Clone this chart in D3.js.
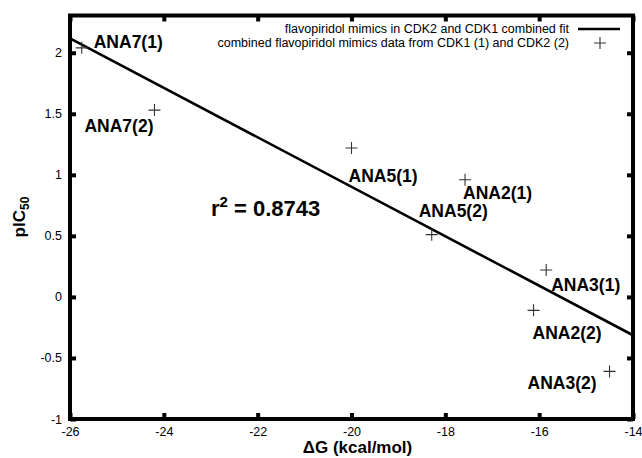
<!DOCTYPE html>
<html>
<head>
<meta charset="utf-8">
<script src="https://cdn.jsdelivr.net/npm/d3@7"></script>
<style>
  body { margin: 0; background: #fff; }
  svg { display: block; font-family: "Liberation Sans", Arial, Helvetica, sans-serif; }
</style>
</head>
<body>
<div id="chart"></div>
<script>
// Compounds and their values (deltaG in kcal/mol, pIC50)
const compounds = ["ANA7(1)", "ANA7(2)", "ANA5(1)", "ANA2(1)", "ANA5(2)", "ANA3(1)", "ANA2(2)", "ANA3(2)"];
const deltaG = [-25.75, -24.2, -20.0, -17.58, -18.29, -15.85, -16.12, -14.5];
const pIC50 = [2.04, 1.53, 1.22, 0.96, 0.51, 0.22, -0.11, -0.61];

// Combined fit line end points
const fitX = [-26, -14];
const fitY = [2.118, -0.314];

// Tick values
const xTicks = [-26, -24, -22, -20, -18, -16, -14];
const yTicks = [-1, -0.5, 0, 0.5, 1, 1.5, 2];

const legendLabels = [
    "flavopiridol mimics in CDK2 and CDK1 combined fit",
    "combined flavopiridol mimics data from CDK1 (1) and CDK2 (2)"
];
const r2Value = "0.8743";

// Label offsets from each point, in pixels (dx, dy of text start/baseline)
const labelOffsets = [[12, 0], [-70, 22], [-3, 34], [-2, 19], [-13, -18], [5, 21], [-1, 29], [-82, 18]];

const W = 642, H = 458;
const margin = { top: 15.5, right: 9, bottom: 39, left: 70 };
const width = W - margin.left - margin.right;
const height = H - margin.top - margin.bottom;

const svg = d3.select("#chart").append("svg")
    .attr("width", W)
    .attr("height", H);

const g = svg.append("g")
    .attr("transform", `translate(${margin.left},${margin.top})`);

const x = d3.scaleLinear().domain([-26, -14]).range([0, width]);
const y = d3.scaleLinear().domain([-1, 2.305]).range([height, 0]);

const fmt = d => String(d); // keep plain hyphen minus like the original

// Axes with inward ticks
function styleAxis(sel) {
    sel.select(".domain").remove();
    sel.selectAll(".tick line").attr("stroke", "#000").attr("stroke-width", 4);
    sel.selectAll(".tick text").attr("fill", "#000").style("font-size", "12.5px");
}

g.append("g")
    .attr("transform", `translate(0,${height})`)
    .call(d3.axisBottom(x).tickValues(xTicks).tickSize(-6).tickPadding(8).tickFormat(fmt))
    .call(styleAxis);

g.append("g")
    .call(d3.axisTop(x).tickValues(xTicks).tickSize(-6).tickFormat(""))
    .call(styleAxis);

g.append("g")
    .call(d3.axisLeft(y).tickValues(yTicks).tickSize(-6).tickPadding(8).tickFormat(fmt))
    .call(styleAxis);

g.append("g")
    .attr("transform", `translate(${width},0)`)
    .call(d3.axisRight(y).tickValues(yTicks).tickSize(-6).tickFormat(""))
    .call(styleAxis);

// Border frame
g.append("rect")
    .attr("x", 0).attr("y", 0)
    .attr("width", width).attr("height", height)
    .attr("fill", "none")
    .attr("stroke", "#000")
    .attr("stroke-width", 4);

// Fit line
g.append("line")
    .attr("x1", x(fitX[0])).attr("y1", y(fitY[0]))
    .attr("x2", x(fitX[1])).attr("y2", y(fitY[1]))
    .attr("stroke", "#000")
    .attr("stroke-width", 2.6);

// Plus marker
function plus(sel, cx, cy, r) {
    sel.append("path")
        .attr("d", `M${cx - r},${cy}H${cx + r}M${cx},${cy - r}V${cy + r}`)
        .attr("stroke", "#333")
        .attr("stroke-width", 1.1)
        .attr("fill", "none");
}

const points = compounds.map((c, i) => ({ name: c, dg: deltaG[i], p: pIC50[i], off: labelOffsets[i] }));

points.forEach(d => plus(g, x(d.dg), y(d.p), 6));

// Point labels
g.selectAll(".lbl")
    .data(points)
    .enter()
    .append("text")
    .attr("class", "lbl")
    .attr("x", d => x(d.dg) + d.off[0])
    .attr("y", d => y(d.p) + d.off[1])
    .style("font-size", "17.5px")
    .style("font-weight", "bold")
    .text(d => d.name);

// r^2 annotation
const r2 = svg.append("text")
    .attr("x", 211)
    .attr("y", 216)
    .style("font-size", "22px")
    .style("font-weight", "bold");
r2.append("tspan").text("r");
r2.append("tspan").attr("dy", -9).style("font-size", "15px").text("2");
r2.append("tspan").attr("dy", 9).text(" = " + r2Value);

// Legend
const legend = svg.append("g");
legend.selectAll("text")
    .data(legendLabels)
    .enter()
    .append("text")
    .attr("x", 569)
    .attr("y", (d, i) => 33 + i * 13.8)
    .attr("text-anchor", "end")
    .style("font-size", "12.5px")
    .text(d => d);
legend.append("line")
    .attr("x1", 578).attr("x2", 620)
    .attr("y1", 29).attr("y2", 29)
    .attr("stroke", "#000")
    .attr("stroke-width", 2.6);
plus(legend, 600, 43, 6);

// Axis titles
svg.append("text")
    .attr("x", margin.left + width / 2 + 6)
    .attr("y", 453)
    .attr("text-anchor", "middle")
    .style("font-size", "17px")
    .style("font-weight", "bold")
    .text("\u0394G (kcal/mol)");

const yt = svg.append("text")
    .attr("transform", "rotate(-90)")
    .attr("x", -217)
    .attr("y", 25)
    .attr("text-anchor", "middle")
    .style("font-size", "17px")
    .style("font-weight", "bold");
yt.append("tspan").text("pIC");
yt.append("tspan").attr("dy", 4).style("font-size", "12px").text("50");
</script>
</body>
</html>
